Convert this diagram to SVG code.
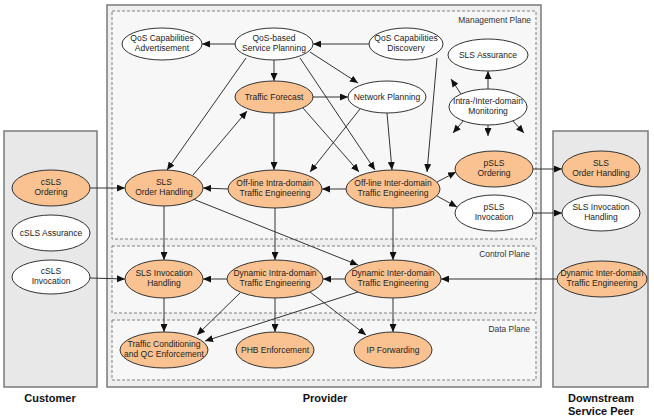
<svg xmlns="http://www.w3.org/2000/svg" width="654" height="417" viewBox="0 0 654 417">
<style>
.box{fill:#e8e8e8;stroke:#7a7a7a;stroke-width:1.5}
.prov{fill:#efefef;stroke:#7a7a7a;stroke-width:1.5}
.plane{fill:#f7f7f7;stroke:#808080;stroke-width:1;stroke-dasharray:3,2}
.o{fill:#fac290;stroke:#333;stroke-width:1}
.w{fill:#ffffff;stroke:#333;stroke-width:1}
text{font-family:"Liberation Sans",Arial,sans-serif;font-size:8.5px;fill:#222;text-anchor:middle}
.pl{text-anchor:end;fill:#333;font-size:8.4px}
.big{font-size:11px;font-weight:bold;fill:#111}
.e line{stroke:#333;stroke-width:1;marker-end:url(#ah)}
</style>
<defs>
<marker id="ah" markerUnits="userSpaceOnUse" markerWidth="8" markerHeight="7" refX="8" refY="3.5" orient="auto">
<path d="M0,0 L8,3.5 L0,7 z" fill="#111"/>
</marker>
</defs>
<g id="containers">
<rect class="box" x="4" y="131" width="93" height="256"/>
<rect class="prov" x="107" y="5" width="434" height="382"/>
<rect class="box" x="553" y="131" width="95" height="256"/>
<rect class="plane" x="112" y="11" width="424" height="228"/>
<rect class="plane" x="112" y="246" width="424" height="67"/>
<rect class="plane" x="112" y="320" width="424" height="60"/>
<text class="pl" x="531" y="23">Management Plane</text>
<text class="pl" x="530" y="257">Control Plane</text>
<text class="pl" x="530" y="332">Data Plane</text>
<text class="big" x="50" y="402">Customer</text>
<text class="big" x="325" y="402">Provider</text>
<text class="big" x="601" y="402">Downstream</text>
<text class="big" x="601" y="415">Service Peer</text>
</g>
<g class="e" id="connectors">
<line x1="235" y1="44" x2="202" y2="44"/>
<line x1="369" y1="44" x2="313" y2="44"/>
<line x1="274" y1="60" x2="274" y2="81"/>
<line x1="246" y1="58" x2="167" y2="170"/>
<line x1="193" y1="175" x2="247" y2="111"/>
<line x1="310" y1="52" x2="358" y2="83"/>
<line x1="300" y1="58" x2="375" y2="170"/>
<line x1="303" y1="108" x2="359" y2="172"/>
<line x1="360" y1="109" x2="310" y2="172"/>
<line x1="387" y1="113" x2="392" y2="170"/>
<line x1="437" y1="58" x2="427" y2="172"/>
<line x1="313" y1="97" x2="348" y2="97"/>
<line x1="274" y1="113" x2="274" y2="170"/>
<line x1="346" y1="189" x2="322" y2="189"/>
<line x1="228" y1="189" x2="203" y2="188"/>
<line x1="437" y1="182" x2="456" y2="172"/>
<line x1="437" y1="196" x2="457" y2="207"/>
<line x1="533" y1="169" x2="562" y2="169"/>
<line x1="533" y1="213" x2="562" y2="213"/>
<line x1="90" y1="188" x2="125" y2="188"/>
<line x1="90" y1="278" x2="125" y2="279"/>
<line x1="164" y1="206" x2="164" y2="260"/>
<line x1="193" y1="199" x2="358" y2="265"/>
<line x1="275" y1="208" x2="275" y2="260"/>
<line x1="393" y1="208" x2="393" y2="260"/>
<line x1="227" y1="279" x2="203" y2="279"/>
<line x1="345" y1="279" x2="323" y2="279"/>
<line x1="557" y1="279" x2="441" y2="279"/>
<line x1="164" y1="298" x2="164" y2="332"/>
<line x1="240" y1="293" x2="197" y2="335"/>
<line x1="358" y1="292" x2="205" y2="341"/>
<line x1="310" y1="292" x2="366" y2="335"/>
<line x1="275" y1="298" x2="275" y2="332"/>
<line x1="393" y1="298" x2="393" y2="332"/>
<line x1="488" y1="89" x2="488" y2="71"/>
<line x1="461" y1="94" x2="451" y2="79"/>
<line x1="464" y1="120" x2="453" y2="133"/>
<line x1="488" y1="125" x2="488" y2="136"/>
<line x1="512" y1="120" x2="524" y2="133"/>
</g>
<g id="qos-adv"><ellipse class="w" cx="162" cy="44" rx="40" ry="16"/><text x="162" y="41">QoS Capabilities</text><text x="162" y="51">Advertisement</text></g>
<g id="qos-sp"><ellipse class="w" cx="274" cy="44" rx="39" ry="16"/><text x="274" y="41">QoS-based</text><text x="274" y="51">Service Planning</text></g>
<g id="qos-disc"><ellipse class="w" cx="406" cy="44" rx="37" ry="16"/><text x="406" y="41">QoS Capabilities</text><text x="406" y="51">Discovery</text></g>
<g id="sls-assurance"><ellipse class="w" cx="488" cy="55" rx="40" ry="16"/><text x="488" y="58">SLS Assurance</text></g>
<g id="traffic-forecast"><ellipse class="o" cx="274" cy="97" rx="39" ry="16"/><text x="274" y="100">Traffic Forecast</text></g>
<g id="network-planning"><ellipse class="w" cx="387" cy="97" rx="39" ry="16"/><text x="387" y="100">Network Planning</text></g>
<g id="monitoring"><ellipse class="w" cx="488" cy="107" rx="39" ry="18"/><text x="488" y="104">Intra-/Inter-domain</text><text x="488" y="114">Monitoring</text></g>
<g id="cSLS-ordering"><ellipse class="o" cx="51" cy="188" rx="39" ry="18"/><text x="51" y="185">cSLS</text><text x="51" y="195">Ordering</text></g>
<g id="cSLS-assurance"><ellipse class="w" cx="51" cy="233" rx="39" ry="18"/><text x="51" y="236">cSLS Assurance</text></g>
<g id="cSLS-invocation"><ellipse class="w" cx="51" cy="277" rx="39" ry="17"/><text x="51" y="274">cSLS</text><text x="51" y="284">Invocation</text></g>
<g id="sls-order-handling"><ellipse class="o" cx="164" cy="188" rx="39" ry="18"/><text x="164" y="185">SLS</text><text x="164" y="195">Order Handling</text></g>
<g id="offline-intra"><ellipse class="o" cx="275" cy="189" rx="47" ry="19"/><text x="275" y="186">Off-line Intra-domain</text><text x="275" y="196">Traffic Engineering</text></g>
<g id="offline-inter"><ellipse class="o" cx="393" cy="189" rx="47" ry="19"/><text x="393" y="186">Off-line Inter-domain</text><text x="393" y="196">Traffic Engineering</text></g>
<g id="pSLS-ordering"><ellipse class="o" cx="494" cy="169" rx="39" ry="18"/><text x="494" y="166">pSLS</text><text x="494" y="176">Ordering</text></g>
<g id="pSLS-invocation"><ellipse class="w" cx="494" cy="213" rx="39" ry="18"/><text x="494" y="210">pSLS</text><text x="494" y="220">Invocation</text></g>
<g id="ds-sls-order-handling"><ellipse class="o" cx="601" cy="169" rx="39" ry="18"/><text x="601" y="166">SLS</text><text x="601" y="176">Order Handling</text></g>
<g id="ds-sls-invocation-handling"><ellipse class="w" cx="601" cy="213" rx="39" ry="18"/><text x="601" y="210">SLS Invocation</text><text x="601" y="220">Handling</text></g>
<g id="sls-invocation-handling"><ellipse class="o" cx="164" cy="279" rx="39" ry="19"/><text x="164" y="276">SLS Invocation</text><text x="164" y="286">Handling</text></g>
<g id="dynamic-intra"><ellipse class="o" cx="275" cy="279" rx="48" ry="19"/><text x="275" y="276">Dynamic Intra-domain</text><text x="275" y="286">Traffic Engineering</text></g>
<g id="dynamic-inter"><ellipse class="o" cx="393" cy="279" rx="48" ry="19"/><text x="393" y="276">Dynamic Inter-domain</text><text x="393" y="286">Traffic Engineering</text></g>
<g id="ds-dynamic-inter"><ellipse class="o" cx="602" cy="279" rx="45" ry="18"/><text x="602" y="276">Dynamic Inter-domain</text><text x="602" y="286">Traffic Engineering</text></g>
<g id="traffic-conditioning"><ellipse class="o" cx="164" cy="350" rx="44" ry="18"/><text x="164" y="347">Traffic Conditioning</text><text x="164" y="357">and QC Enforcement</text></g>
<g id="phb-enforcement"><ellipse class="o" cx="275" cy="350" rx="39" ry="18"/><text x="275" y="353">PHB Enforcement</text></g>
<g id="ip-forwarding"><ellipse class="o" cx="393" cy="350" rx="39" ry="18"/><text x="393" y="353">IP Forwarding</text></g>
</svg>
